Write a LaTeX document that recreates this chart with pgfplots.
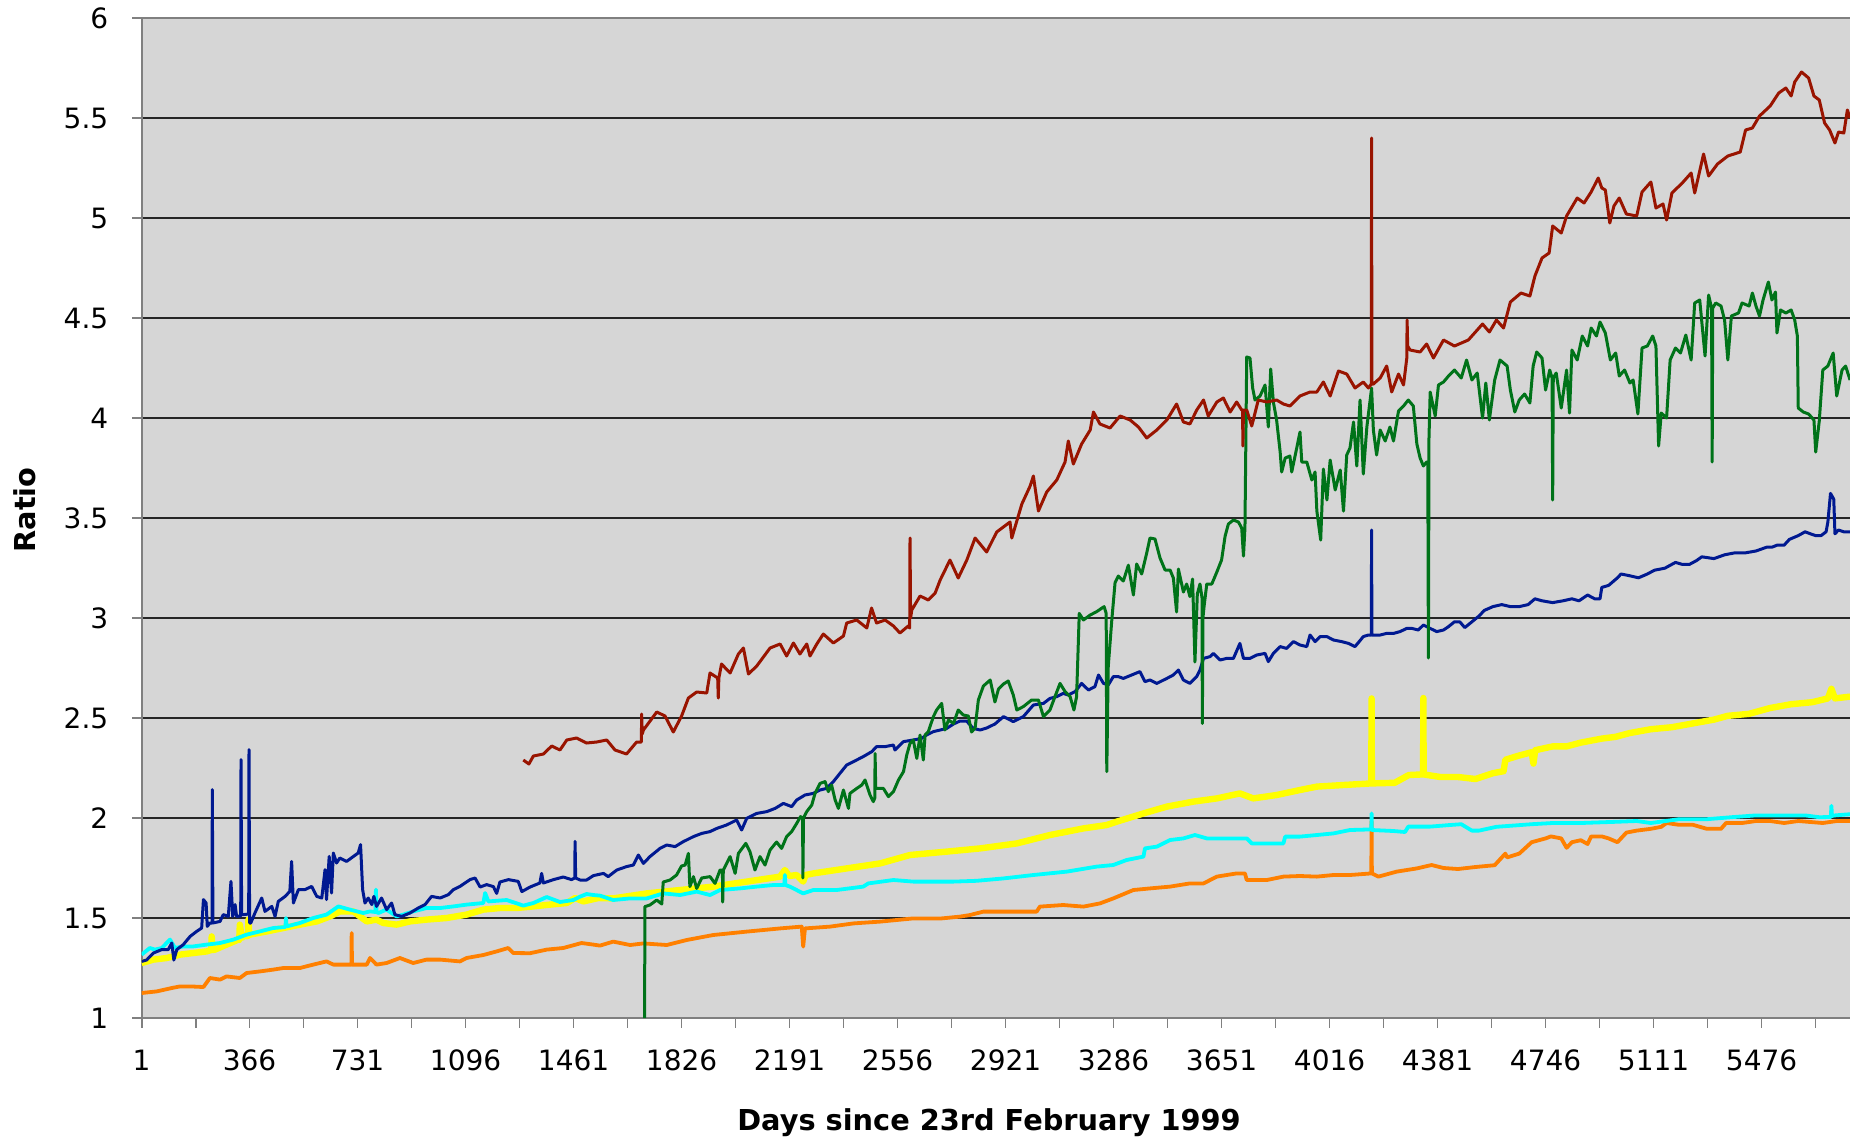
\documentclass[border=0pt]{standalone}
\usepackage{fontspec}
\setmainfont{DejaVu Sans}
\usepackage{pgfplots}
\pgfplotsset{compat=1.18}
\definecolor{bgc}{RGB}{214,214,214}
\definecolor{axgray}{RGB}{128,128,128}
\definecolor{sred}{RGB}{153,20,0}
\definecolor{sgreen}{RGB}{0,115,25}
\definecolor{snavy}{RGB}{0,25,145}
\definecolor{syellow}{RGB}{255,255,0}
\definecolor{scyan}{RGB}{0,255,255}
\definecolor{sorange}{RGB}{255,128,0}
\begin{document}
\begin{tikzpicture}
\begin{axis}[
  at={(35.4pt,30pt)}, anchor=south west,
  scale only axis, width=427.1pt, height=250pt,
  xmin=1, xmax=5775, ymin=1, ymax=6,
  axis background/.style={fill=bgc},
  axis x line*=bottom, axis y line*=left,
  axis line style={draw=axgray, line width=0.55pt, -},
  xtick={1,366,731,1096,1461,1826,2191,2556,2921,3286,3651,4016,4381,4746,5111,5476},
  xticklabels={1,366,731,1096,1461,1826,2191,2556,2921,3286,3651,4016,4381,4746,5111,5476},
  minor xtick={183.5,548.5,913.5,1278.5,1643.5,2008.5,2373.5,2738.5,3103.5,3468.5,3833.5,4198.5,4563.5,4928.5,5293.5,5658.5},
  ytick={1,1.5,2,2.5,3,3.5,4,4.5,5,5.5,6},
  yticklabels={1,1.5,2,2.5,3,3.5,4,4.5,5,5.5,6},
  ymajorgrids, major grid style={black!85, line width=0.35pt},
  tick align=outside, major tick length=2.4pt, minor tick length=2.4pt,
  tick style={draw=axgray, line width=0.45pt},
  ticklabel style={font=\fontsize{7}{8}\selectfont, text=black},
  xticklabel style={yshift=-2.0pt},
  yticklabel style={xshift=-2.4pt},
  xlabel={Days since 23rd February 1999},
  ylabel={Ratio},
  label style={font=\fontsize{7.2}{8}\selectfont\bfseries},
  xlabel style={at={(axis description cs:0.496,-0.112)}, anchor=base},
  ylabel style={at={(axis description cs:-0.06825,0.508)}, anchor=center, rotate=0},
  every axis plot/.append style={line join=round, mark=none},
  after end axis/.code={\draw[axgray, line width=0.6pt] (rel axis cs:0,1) -- (rel axis cs:1,1);},
]
% orange
\addplot[sorange, line width=0.95pt] table {
1 1.125
52 1.133
103 1.15
131 1.158
165 1.158
210 1.155
232 1.20
266 1.192
288 1.208
333 1.20
356 1.225
401 1.233
446 1.242
480 1.25
536 1.25
581 1.267
626 1.283
649 1.267
694 1.267
710 1.267
711 1.425
712 1.267
762 1.267
773 1.30
795 1.267
829 1.275
874 1.30
919 1.275
964 1.292
1010 1.292
1077 1.283
1099 1.30
1156 1.315
1201 1.333
1240 1.35
1257 1.325
1314 1.324
1370 1.342
1426 1.35
1488 1.375
1528 1.367
1550 1.362
1595 1.382
1652 1.365
1697 1.373
1776 1.365
1843 1.39
1933 1.415
2046 1.432
2159 1.448
2232 1.457
2237 1.357
2243 1.448
2328 1.457
2407 1.473
2497 1.482
2609 1.498
2705 1.498
2767 1.507
2801 1.515
2846 1.532
2959 1.532
3026 1.532
3037 1.557
3116 1.565
3184 1.557
3240 1.573
3285 1.598
3353 1.64
3409 1.648
3477 1.657
3544 1.673
3590 1.673
3635 1.707
3702 1.723
3730 1.723
3736 1.69
3804 1.69
3860 1.707
3916 1.71
3973 1.707
4029 1.715
4085 1.715
4157 1.723
4158 1.985
4159 1.723
4181 1.707
4243 1.732
4311 1.748
4361 1.765
4401 1.75
4450 1.745
4509 1.755
4574 1.764
4592 1.793
4610 1.822
4616 1.803
4657 1.822
4699 1.879
4746 1.898
4764 1.908
4799 1.898
4817 1.851
4835 1.879
4865 1.889
4888 1.870
4900 1.908
4936 1.908
4959 1.898
4989 1.879
5019 1.927
5054 1.937
5102 1.946
5137 1.956
5155 1.975
5197 1.966
5244 1.966
5291 1.946
5339 1.946
5356 1.975
5410 1.975
5457 1.985
5505 1.985
5552 1.975
5600 1.985
5683 1.975
5730 1.985
5775 1.985
};
% yellow
\addplot[syellow, line width=1.6pt] table {
1 1.275
41 1.292
86 1.30
131 1.317
176 1.325
221 1.333
236 1.34
238 1.408
241 1.34
249 1.342
288 1.367
328 1.392
331 1.39
333 1.467
340 1.40
345 1.408
360 1.41
362 1.492
365 1.415
367 1.417
424 1.433
480 1.45
536 1.467
593 1.483
638 1.508
671 1.533
717 1.533
739 1.508
762 1.483
795 1.492
818 1.475
863 1.467
908 1.483
964 1.492
1032 1.50
1099 1.517
1156 1.542
1212 1.55
1269 1.55
1325 1.558
1381 1.567
1438 1.575
1466 1.60
1494 1.583
1545 1.60
1595 1.598
1708 1.623
1821 1.64
1933 1.657
2046 1.682
2159 1.707
2175 1.74
2190 1.71
2215 1.715
2237 1.682
2245 1.715
2271 1.723
2384 1.748
2497 1.773
2598 1.815
2722 1.832
2835 1.848
2959 1.873
3071 1.915
3184 1.948
3263 1.965
3297 1.982
3387 2.023
3466 2.057
3556 2.082
3635 2.098
3713 2.123
3758 2.098
3837 2.115
3916 2.14
3973 2.157
4063 2.165
4157 2.173
4158 2.598
4159 2.173
4236 2.176
4284 2.215
4332 2.218
4333 2.60
4334 2.218
4390 2.205
4450 2.205
4509 2.195
4568 2.224
4604 2.234
4610 2.291
4651 2.31
4699 2.329
4705 2.272
4711 2.339
4770 2.358
4817 2.358
4865 2.377
4936 2.397
4983 2.406
5031 2.425
5102 2.444
5173 2.454
5244 2.473
5315 2.492
5362 2.511
5434 2.521
5505 2.55
5576 2.569
5647 2.579
5700 2.598
5712 2.646
5724 2.598
5775 2.607
};
% cyan
\addplot[scyan, line width=0.95pt] table {
1 1.317
29 1.35
46 1.342
69 1.35
97 1.392
114 1.35
142 1.358
176 1.358
221 1.367
266 1.375
311 1.392
356 1.417
401 1.433
446 1.45
487 1.455
489 1.50
491 1.458
536 1.475
581 1.50
626 1.517
666 1.558
705 1.542
750 1.525
773 1.533
791 1.53
793 1.642
795 1.53
801 1.525
829 1.542
863 1.508
885 1.517
919 1.533
964 1.55
1010 1.55
1055 1.558
1100 1.567
1156 1.575
1162 1.625
1173 1.583
1235 1.59
1291 1.562
1325 1.575
1370 1.605
1415 1.58
1460 1.59
1483 1.607
1505 1.62
1528 1.615
1550 1.612
1595 1.59
1652 1.598
1708 1.598
1764 1.623
1821 1.615
1877 1.632
1922 1.615
1956 1.64
2023 1.648
2080 1.657
2136 1.665
2173 1.665
2175 1.715
2177 1.665
2192 1.657
2237 1.623
2271 1.64
2350 1.64
2440 1.657
2457 1.673
2542 1.69
2609 1.682
2677 1.682
2745 1.682
2823 1.686
2914 1.698
3015 1.715
3128 1.732
3229 1.757
3285 1.765
3330 1.79
3387 1.807
3392 1.848
3432 1.857
3477 1.89
3522 1.898
3561 1.915
3601 1.898
3668 1.898
3736 1.898
3753 1.873
3804 1.873
3860 1.873
3866 1.907
3916 1.907
3973 1.915
4029 1.923
4085 1.94
4157 1.943
4158 2.023
4159 1.94
4232 1.935
4271 1.93
4282 1.957
4356 1.957
4423 1.965
4461 1.969
4497 1.937
4521 1.937
4580 1.956
4699 1.969
4770 1.975
4865 1.975
4983 1.981
5054 1.985
5102 1.975
5197 1.994
5291 1.994
5374 2.004
5457 2.013
5516 2.013
5623 2.013
5671 2.004
5710 2.005
5712 2.061
5714 2.01
5724 2.013
5775 2.019
};
% navy
\addplot[snavy, line width=0.75pt] table {
1 1.283
18 1.29
41 1.325
69 1.342
91 1.342
103 1.375
110 1.29
120 1.342
142 1.367
165 1.408
187 1.433
204 1.45
210 1.592
219 1.575
223 1.458
232 1.475
239 1.475
240 2.142
242 1.475
266 1.483
277 1.517
294 1.508
303 1.683
309 1.508
317 1.567
322 1.508
336 1.51
337 2.292
339 1.517
345 1.517
363 1.52
364 2.342
366 1.475
370 1.475
384 1.525
407 1.60
418 1.533
441 1.558
452 1.508
463 1.583
486 1.608
502 1.633
508 1.783
514 1.575
531 1.642
553 1.642
576 1.658
593 1.608
610 1.60
621 1.742
626 1.592
635 1.808
643 1.625
649 1.825
660 1.775
671 1.80
694 1.783
717 1.808
733 1.825
741 1.867
748 1.642
756 1.575
767 1.60
779 1.567
786 1.608
795 1.558
812 1.60
829 1.542
846 1.575
857 1.517
880 1.508
908 1.525
936 1.55
959 1.567
981 1.608
1010 1.60
1038 1.617
1055 1.642
1077 1.658
1094 1.675
1111 1.692
1128 1.70
1145 1.655
1167 1.667
1190 1.657
1201 1.623
1212 1.68
1241 1.692
1274 1.683
1286 1.632
1314 1.655
1347 1.675
1353 1.723
1359 1.675
1393 1.692
1426 1.705
1454 1.692
1465 1.70
1466 1.883
1468 1.70
1483 1.69
1505 1.69
1528 1.712
1562 1.723
1578 1.707
1607 1.74
1640 1.757
1663 1.765
1680 1.815
1697 1.773
1719 1.807
1753 1.848
1776 1.865
1804 1.857
1832 1.882
1866 1.907
1894 1.923
1922 1.932
1945 1.948
1978 1.965
2012 1.99
2029 1.94
2046 1.998
2080 2.023
2114 2.032
2142 2.048
2170 2.073
2198 2.057
2215 2.09
2243 2.115
2271 2.123
2294 2.14
2316 2.148
2339 2.182
2361 2.223
2384 2.265
2407 2.282
2440 2.307
2469 2.332
2485 2.357
2514 2.357
2542 2.365
2547 2.34
2576 2.382
2609 2.39
2637 2.398
2654 2.415
2677 2.432
2700 2.44
2722 2.448
2745 2.47
2767 2.485
2789 2.485
2812 2.448
2835 2.44
2857 2.45
2885 2.47
2914 2.507
2947 2.482
2981 2.507
3015 2.565
3049 2.573
3071 2.598
3094 2.607
3116 2.623
3133 2.615
3156 2.632
3178 2.673
3201 2.64
3223 2.657
3235 2.715
3252 2.673
3268 2.665
3285 2.707
3302 2.707
3319 2.698
3347 2.715
3375 2.732
3392 2.682
3409 2.69
3432 2.673
3466 2.698
3488 2.715
3505 2.74
3522 2.69
3544 2.673
3567 2.707
3578 2.74
3590 2.798
3612 2.807
3623 2.823
3646 2.79
3668 2.798
3691 2.798
3713 2.873
3725 2.798
3747 2.798
3770 2.815
3798 2.823
3809 2.782
3826 2.823
3849 2.857
3871 2.848
3894 2.882
3916 2.865
3939 2.857
3950 2.915
3967 2.882
3984 2.907
4007 2.907
4029 2.89
4057 2.882
4080 2.873
4102 2.857
4130 2.907
4147 2.915
4157 2.915
4158 3.44
4159 2.915
4187 2.915
4209 2.923
4232 2.923
4254 2.932
4277 2.948
4294 2.948
4316 2.94
4333 2.965
4356 2.948
4378 2.932
4401 2.94
4418 2.957
4438 2.981
4456 2.981
4473 2.952
4497 2.981
4521 3.01
4539 3.038
4568 3.057
4598 3.067
4627 3.057
4657 3.057
4687 3.067
4710 3.096
4734 3.086
4770 3.077
4805 3.086
4835 3.096
4859 3.086
4888 3.115
4912 3.096
4930 3.096
4936 3.153
4959 3.163
4989 3.201
5001 3.22
5031 3.211
5060 3.201
5090 3.22
5114 3.239
5149 3.249
5185 3.278
5208 3.268
5232 3.268
5256 3.287
5274 3.306
5315 3.297
5351 3.316
5386 3.326
5422 3.326
5457 3.335
5493 3.354
5511 3.354
5528 3.364
5552 3.364
5570 3.393
5600 3.412
5623 3.431
5641 3.421
5659 3.412
5677 3.412
5694 3.431
5700 3.479
5709 3.623
5720 3.594
5724 3.421
5736 3.44
5754 3.431
5775 3.431
};
% green
\addplot[sgreen, line width=0.75pt] table {
1701 1.00
1702 1.557
1719 1.565
1742 1.59
1759 1.57
1764 1.68
1787 1.69
1809 1.715
1826 1.76
1838 1.765
1849 1.823
1854 1.657
1866 1.707
1877 1.648
1894 1.70
1922 1.707
1939 1.673
1956 1.74
1964 1.74
1965 1.58
1967 1.74
1973 1.757
1990 1.807
2007 1.723
2018 1.823
2043 1.873
2057 1.832
2074 1.74
2091 1.807
2108 1.765
2125 1.84
2147 1.88
2164 1.848
2181 1.907
2198 1.932
2215 1.973
2228 2.007
2235 2.00
2236 1.70
2238 2.00
2249 2.032
2266 2.065
2277 2.123
2294 2.173
2311 2.182
2322 2.132
2333 2.165
2345 2.09
2356 2.048
2373 2.14
2390 2.048
2395 2.123
2418 2.148
2435 2.165
2446 2.19
2463 2.115
2474 2.082
2479 2.10
2480 2.323
2482 2.15
2485 2.148
2508 2.148
2525 2.107
2542 2.132
2559 2.19
2576 2.232
2587 2.315
2598 2.373
2609 2.39
2621 2.298
2632 2.415
2643 2.29
2649 2.415
2660 2.432
2677 2.507
2688 2.54
2705 2.573
2716 2.44
2728 2.49
2745 2.473
2761 2.54
2778 2.515
2795 2.51
2806 2.43
2818 2.45
2829 2.59
2846 2.66
2869 2.69
2885 2.58
2897 2.645
2914 2.67
2930 2.685
2947 2.615
2959 2.54
2981 2.557
3009 2.59
3032 2.59
3049 2.507
3071 2.54
3088 2.607
3105 2.673
3122 2.632
3139 2.607
3152 2.54
3161 2.607
3170 3.023
3184 2.99
3207 3.015
3229 3.032
3254 3.057
3261 3.023
3263 2.232
3268 2.757
3280 2.99
3291 3.177
3302 3.21
3319 3.185
3336 3.264
3353 3.115
3364 3.27
3381 3.22
3398 3.325
3409 3.40
3426 3.395
3443 3.30
3460 3.24
3477 3.24
3488 3.20
3499 3.03
3505 3.245
3522 3.13
3533 3.17
3544 3.107
3553 3.195
3561 2.78
3569 3.12
3578 3.17
3585 3.10
3586 2.473
3588 3.00
3592 3.06
3601 3.17
3618 3.17
3635 3.23
3651 3.29
3663 3.41
3674 3.47
3691 3.49
3708 3.48
3719 3.45
3725 3.31
3730 3.45
3736 4.305
3747 4.30
3756 4.15
3764 4.09
3781 4.11
3798 4.165
3809 3.955
3817 4.245
3826 4.08
3837 3.99
3849 3.83
3854 3.73
3866 3.80
3882 3.81
3888 3.73
3905 3.85
3916 3.93
3922 3.78
3939 3.78
3956 3.69
3967 3.73
3973 3.535
3986 3.39
3995 3.745
4007 3.59
4018 3.79
4035 3.64
4052 3.74
4063 3.535
4074 3.815
4085 3.85
4097 3.98
4108 3.76
4119 4.09
4130 3.72
4142 3.955
4158 4.15
4164 3.94
4175 3.815
4187 3.94
4204 3.885
4220 3.955
4232 3.885
4249 4.035
4266 4.06
4282 4.09
4299 4.06
4311 3.87
4322 3.80
4333 3.76
4344 3.78
4348 3.78
4350 2.80
4352 3.9
4356 4.13
4373 4.01
4384 4.165
4401 4.18
4418 4.21
4438 4.24
4461 4.20
4479 4.29
4497 4.19
4515 4.225
4533 4.0
4544 4.175
4556 3.99
4574 4.19
4592 4.29
4616 4.26
4627 4.14
4642 4.03
4657 4.09
4675 4.12
4693 4.075
4704 4.26
4716 4.33
4734 4.30
4746 4.14
4760 4.24
4768 4.20
4770 3.59
4772 4.20
4782 4.225
4799 4.05
4817 4.24
4827 4.025
4835 4.34
4853 4.29
4870 4.41
4888 4.36
4900 4.45
4918 4.41
4930 4.48
4948 4.425
4965 4.29
4983 4.325
4995 4.21
5013 4.24
5031 4.175
5042 4.19
5058 4.02
5072 4.35
5090 4.36
5108 4.41
5119 4.36
5128 3.86
5137 4.025
5155 4.0
5167 4.29
5185 4.35
5202 4.325
5220 4.415
5238 4.29
5250 4.575
5267 4.59
5285 4.31
5297 4.615
5307 4.55
5309 3.78
5311 4.55
5321 4.575
5339 4.56
5351 4.49
5362 4.29
5374 4.51
5398 4.525
5410 4.575
5434 4.56
5445 4.625
5457 4.56
5469 4.51
5481 4.59
5499 4.68
5511 4.59
5523 4.63
5528 4.425
5540 4.54
5558 4.525
5576 4.54
5588 4.49
5597 4.41
5600 4.05
5617 4.03
5635 4.02
5653 3.99
5659 3.83
5671 3.985
5683 4.24
5700 4.26
5718 4.325
5730 4.11
5748 4.24
5760 4.26
5775 4.19
};
% red
\addplot[sred, line width=0.75pt] table {
1291 2.29
1310 2.27
1325 2.31
1359 2.32
1387 2.36
1415 2.34
1438 2.39
1471 2.40
1505 2.375
1539 2.38
1573 2.39
1601 2.34
1640 2.32
1674 2.38
1690 2.38
1691 2.52
1693 2.42
1697 2.44
1742 2.53
1770 2.51
1798 2.43
1826 2.51
1849 2.60
1877 2.63
1911 2.625
1922 2.725
1948 2.70
1950 2.60
1952 2.70
1961 2.77
1990 2.725
2018 2.82
2035 2.85
2052 2.72
2080 2.76
2125 2.85
2159 2.87
2181 2.81
2204 2.875
2226 2.82
2249 2.87
2260 2.81
2283 2.87
2305 2.92
2339 2.875
2373 2.91
2384 2.975
2418 2.99
2452 2.95
2468 3.05
2485 2.975
2514 2.99
2542 2.96
2564 2.925
2592 2.96
2597 2.95
2598 3.40
2600 3.00
2604 3.04
2632 3.11
2660 3.09
2683 3.125
2700 3.19
2733 3.29
2761 3.20
2790 3.29
2818 3.40
2857 3.33
2891 3.43
2936 3.48
2942 3.40
2976 3.57
3004 3.66
3015 3.71
3032 3.535
3060 3.63
3094 3.69
3122 3.78
3133 3.885
3150 3.77
3178 3.87
3207 3.94
3218 4.03
3240 3.97
3274 3.95
3308 4.01
3342 3.99
3370 3.955
3398 3.90
3432 3.94
3466 3.99
3499 4.07
3522 3.98
3544 3.97
3567 4.04
3590 4.09
3606 4.01
3635 4.08
3657 4.10
3680 4.03
3702 4.08
3719 4.04
3722 4.04
3723 3.86
3725 4.04
3736 4.04
3753 3.96
3775 4.09
3804 4.08
3837 4.09
3860 4.07
3882 4.06
3916 4.11
3950 4.13
3973 4.13
3995 4.18
4018 4.11
4046 4.235
4074 4.22
4102 4.15
4130 4.18
4147 4.15
4157 4.17
4158 5.40
4159 4.17
4164 4.17
4187 4.20
4209 4.26
4226 4.13
4249 4.22
4266 4.165
4277 4.30
4278 4.49
4280 4.36
4288 4.34
4322 4.33
4344 4.37
4367 4.30
4401 4.39
4438 4.36
4485 4.39
4533 4.47
4556 4.43
4580 4.49
4604 4.45
4627 4.58
4663 4.625
4693 4.61
4710 4.71
4734 4.80
4758 4.825
4770 4.96
4799 4.925
4817 5.01
4853 5.10
4876 5.075
4900 5.13
4924 5.20
4936 5.15
4948 5.14
4963 4.975
4977 5.06
4995 5.10
5019 5.02
5054 5.01
5072 5.13
5102 5.18
5119 5.05
5143 5.07
5155 4.99
5173 5.125
5208 5.175
5238 5.225
5250 5.125
5280 5.32
5297 5.21
5327 5.27
5362 5.31
5404 5.33
5422 5.44
5445 5.45
5469 5.51
5505 5.56
5534 5.625
5558 5.65
5576 5.61
5588 5.68
5611 5.73
5635 5.70
5653 5.61
5671 5.59
5689 5.475
5706 5.44
5724 5.375
5736 5.43
5754 5.425
5766 5.54
5775 5.50
};
\end{axis}
\pgfresetboundingbox
\path (0,0) rectangle (462.5pt,284.5pt);
\end{tikzpicture}
\end{document}
